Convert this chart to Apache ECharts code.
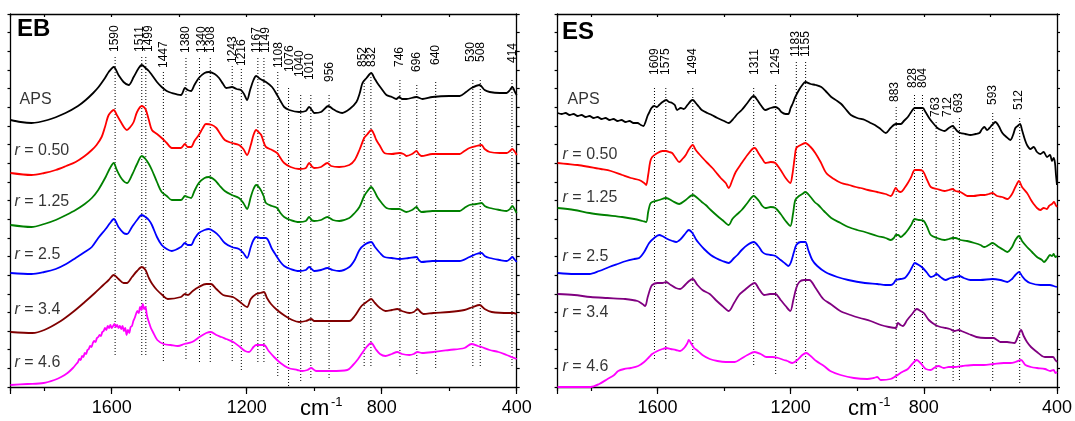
<!DOCTYPE html>
<html><head><meta charset="utf-8">
<script src="https://cdn.jsdelivr.net/npm/echarts@6/dist/echarts.min.js"></script>
<style>html,body{margin:0;padding:0;background:#fff;}#c{width:1075px;height:421px;}</style>
</head><body><div id="c"></div>
<script>
// ---------- DATA ----------
const seriesNames = ['APS', 'r = 0.50', 'r = 1.25', 'r = 2.5', 'r = 3.4', 'r = 4.6'];
const xTickLabels = [400, 800, 1200, 1600];

// EB panel spectra: [wavenumber (cm-1), stacked intensity (a.u.)]
const ebAPS = [[1900,270],[1870,268],[1838,267],[1790,270],[1737,277],[1700,284],[1677,290],[1655,297],[1639,303],[1620,312],[1609,318],[1594,323],[1580,315],[1565,308],[1550,305],[1535,313],[1520,322],[1511,325],[1500,322],[1490,319],[1481,315],[1466,308],[1452,303],[1437,299],[1422,297],[1395,295],[1383,302],[1375,300],[1365,299],[1355,305],[1342,312],[1325,317],[1312,318],[1295,316],[1282,312],[1270,306],[1261,302],[1244,303],[1230,301],[1217,300],[1208,296],[1199,290],[1190,300],[1180,310],[1172,314],[1160,311],[1143,308],[1125,303],[1110,295],[1100,289],[1089,283],[1074,280],[1045,278],[1025,279],[1015,283],[1005,279],[1000,277],[980,278],[958,284],[945,281],[935,279],[917,277],[895,281],[875,288],[865,297],[857,307],[845,312],[831,317],[822,312],[813,307],[800,301],[786,295],[770,293],[757,291],[748,293],[740,291],[727,291],[697,293],[679,291],[650,293],[600,294],[569,294],[550,298],[534,302],[510,305],[495,300],[480,298],[450,297],[430,297],[420,300],[413,303],[405,298],[400,295]];
const ebR050 = [[1900,217],[1838,215],[1800,217],[1766,220],[1735,224],[1707,228],[1680,234],[1659,240],[1645,245],[1630,253],[1620,263],[1609,275],[1594,280],[1585,275],[1573,268],[1562,262],[1555,260],[1545,263],[1535,268],[1525,278],[1511,284],[1500,281],[1490,270],[1481,260],[1466,256],[1452,252],[1437,247],[1422,242],[1395,242],[1383,246],[1375,243],[1365,243],[1355,249],[1342,255],[1330,262],[1321,266],[1303,265],[1290,262],[1282,258],[1265,250],[1244,247],[1223,245],[1210,241],[1199,235],[1188,245],[1180,255],[1172,260],[1165,258],[1157,255],[1150,248],[1143,243],[1125,240],[1110,237],[1100,232],[1089,227],[1070,223],[1045,221],[1025,222],[1015,227],[1008,224],[1000,222],[980,223],[961,227],[950,224],[926,223],[896,225],[880,230],[866,240],[852,252],[842,256],[831,260],[822,255],[816,250],[805,244],[792,237],[770,236],[748,237],[735,236],[727,234],[710,236],[697,239],[690,236],[682,234],[650,236],[600,236],[569,236],[555,239],[540,242],[520,244],[504,245],[495,241],[480,238],[450,237],[430,237],[420,239],[413,241],[405,238],[400,235]];
const ebR125 = [[1900,165],[1838,163],[1800,166],[1766,170],[1735,175],[1707,180],[1680,186],[1659,192],[1640,200],[1618,213],[1605,222],[1594,227],[1585,220],[1570,211],[1555,207],[1540,215],[1525,226],[1511,234],[1500,231],[1490,226],[1481,220],[1466,208],[1452,198],[1437,194],[1422,190],[1395,190],[1383,194],[1375,193],[1365,192],[1355,199],[1342,207],[1325,212],[1312,213],[1295,210],[1282,205],[1265,199],[1244,195],[1223,192],[1210,187],[1199,181],[1188,193],[1180,201],[1172,205],[1160,201],[1150,194],[1143,187],[1125,184],[1110,182],[1100,177],[1089,173],[1070,170],[1045,168],[1025,169],[1015,173],[1008,170],[1000,169],[980,170],[961,173],[945,170],[926,169],[896,172],[880,177],[866,183],[852,194],[842,199],[831,203],[822,199],[813,193],[800,187],[786,182],[770,181],[748,181],[727,178],[710,180],[697,183],[690,180],[682,178],[650,179],[600,179],[569,179],[555,182],[540,185],[520,186],[504,187],[495,184],[480,182],[450,180],[430,179],[420,181],[413,184],[405,180],[400,177]];
const ebR25 = [[1900,117],[1838,116],[1800,118],[1766,121],[1735,126],[1707,132],[1680,138],[1659,143],[1640,152],[1618,161],[1605,167],[1594,171],[1580,163],[1565,157],[1555,156],[1540,163],[1525,170],[1511,175],[1500,173],[1490,170],[1481,165],[1466,153],[1452,145],[1437,141],[1422,139],[1395,143],[1383,147],[1375,145],[1365,145],[1355,151],[1342,157],[1325,160],[1312,161],[1295,158],[1282,154],[1265,147],[1244,143],[1223,141],[1210,137],[1199,132],[1188,143],[1180,150],[1172,153],[1160,152],[1143,152],[1125,141],[1110,133],[1100,128],[1089,124],[1070,121],[1045,119],[1025,120],[1015,123],[1008,121],[1000,119],[980,120],[961,122],[945,120],[926,119],[896,123],[880,130],[866,140],[852,145],[831,148],[820,143],[805,137],[792,133],[770,132],[748,131],[720,132],[697,133],[690,130],[682,128],[650,129],[600,129],[569,129],[540,133],[520,136],[504,137],[495,134],[480,132],[450,130],[430,129],[420,131],[413,133],[405,130],[400,128]];
const ebR34 = [[1900,58],[1835,57],[1800,60],[1751,69],[1715,78],[1680,88],[1650,97],[1625,105],[1609,110],[1594,115],[1580,111],[1565,107],[1555,107],[1540,113],[1525,119],[1511,123],[1500,120],[1490,112],[1480,106],[1466,100],[1450,95],[1434,91],[1395,93],[1383,96],[1374,95],[1360,99],[1342,103],[1320,106],[1306,106],[1290,101],[1270,95],[1241,93],[1220,88],[1199,83],[1188,91],[1172,96],[1160,97],[1149,98],[1140,92],[1128,86],[1110,80],[1086,74],[1065,70],[1045,68],[1025,69],[1009,71],[1000,69],[994,69],[950,69],[896,69],[880,74],[860,84],[845,88],[831,91],[820,87],[805,82],[789,79],[770,80],[754,81],[740,79],[718,77],[705,78],[694,81],[685,78],[676,76],[647,77],[600,78],[555,80],[530,83],[510,85],[495,81],[474,78],[421,77],[410,77],[400,76]];
const ebR46 = [[1900,5],[1850,6],[1802,7],[1770,10],[1750,13],[1731,17],[1715,22],[1705,26],[1700,28],[1696,31],[1692,30],[1688,34],[1684,33],[1680,37],[1676,36],[1672,40],[1668,41],[1664,44],[1660,43],[1656,47],[1652,49],[1648,48],[1644,52],[1640,53],[1636,55],[1632,54],[1628,58],[1624,59],[1620,62],[1616,60],[1612,64],[1608,62],[1604,65],[1600,62],[1596,64],[1592,66],[1588,63],[1584,65],[1580,62],[1576,64],[1572,61],[1568,64],[1564,59],[1560,62],[1556,55],[1552,60],[1548,57],[1544,63],[1540,64],[1536,69],[1532,72],[1528,76],[1524,79],[1520,77],[1516,83],[1512,80],[1508,86],[1504,81],[1500,83],[1496,75],[1492,70],[1488,66],[1484,62],[1478,58],[1465,50],[1446,46],[1425,45],[1404,44],[1385,46],[1362,48],[1340,53],[1320,57],[1306,58],[1290,55],[1275,53],[1261,51],[1240,48],[1220,43],[1205,39],[1193,38],[1180,43],[1172,45],[1149,45],[1135,39],[1119,33],[1100,27],[1077,22],[1050,20],[1036,19],[1020,20],[1009,22],[1000,20],[994,19],[950,19],[902,20],[885,25],[870,31],[860,36],[845,43],[831,47],[818,41],[805,36],[789,34],[770,36],[754,38],[740,36],[718,35],[705,36],[694,38],[680,37],[647,38],[600,40],[555,42],[534,46],[515,44],[504,43],[480,40],[454,38],[430,35],[415,33],[400,31]];

// ES panel spectra
const esAPS = [[1900,277],[1888,276],[1876,277],[1864,275],[1852,276],[1840,274],[1828,275],[1816,273],[1804,274],[1792,272],[1780,273],[1768,271],[1756,272],[1744,270],[1732,271],[1720,269],[1708,270],[1696,268],[1684,269],[1672,267],[1660,267],[1650,265],[1642,264],[1636,268],[1630,274],[1624,278],[1618,282],[1610,284],[1602,283],[1595,285],[1585,288],[1574,290],[1565,288],[1556,287],[1548,285],[1541,280],[1530,282],[1521,281],[1510,285],[1500,289],[1494,290],[1485,287],[1475,283],[1467,280],[1450,277],[1437,275],[1420,272],[1400,269],[1386,267],[1370,272],[1360,276],[1347,280],[1330,287],[1311,294],[1300,290],[1290,285],[1276,280],[1260,282],[1246,283],[1235,281],[1228,278],[1215,276],[1207,276],[1200,282],[1193,287],[1186,293],[1175,300],[1165,305],[1156,308],[1140,306],[1125,305],[1108,303],[1095,299],[1078,293],[1060,289],[1048,286],[1035,281],[1019,275],[1000,272],[977,270],[960,267],[947,265],[930,261],[914,257],[900,262],[884,266],[869,266],[860,269],[848,273],[838,278],[827,282],[815,282],[803,282],[795,278],[782,271],[770,266],[759,262],[748,260],[738,259],[725,262],[714,264],[700,259],[690,257],[675,256],[660,255],[645,256],[633,257],[625,261],[618,263],[610,260],[603,262],[595,265],[585,268],[575,264],[564,257],[552,253],[540,250],[532,255],[525,262],[518,264],[511,266],[505,260],[496,250],[490,245],[480,241],[470,243],[460,238],[450,236],[440,238],[430,233],[421,235],[415,229],[410,232],[406,227],[403,215],[400,205]];
const esR050 = [[1900,227],[1870,226],[1840,225],[1804,223],[1770,221],[1740,219],[1706,215],[1680,212],[1655,210],[1640,207],[1634,205],[1628,215],[1622,228],[1616,233],[1600,237],[1585,239],[1574,239],[1565,238],[1556,237],[1545,232],[1535,228],[1525,231],[1515,235],[1505,241],[1494,245],[1485,240],[1475,236],[1467,233],[1450,227],[1435,222],[1425,218],[1410,212],[1395,207],[1386,202],[1375,210],[1365,218],[1347,227],[1330,235],[1315,241],[1308,242],[1295,236],[1285,231],[1276,227],[1260,228],[1246,227],[1230,220],[1215,212],[1201,207],[1195,215],[1188,232],[1183,242],[1170,245],[1156,247],[1140,243],[1126,237],[1110,228],[1093,217],[1070,211],[1048,207],[1025,205],[1004,203],[990,202],[968,200],[940,198],[915,196],[899,194],[884,202],[877,199],[869,198],[858,202],[848,207],[838,213],[827,220],[815,220],[803,219],[790,210],[779,203],[760,201],[738,199],[725,200],[714,201],[705,199],[690,198],[680,196],[669,194],[650,194],[630,195],[618,195],[605,196],[594,197],[580,194],[565,193],[549,191],[535,196],[525,203],[514,209],[505,203],[490,197],[478,190],[470,186],[460,182],[450,180],[440,182],[430,181],[424,184],[415,186],[409,188],[404,185],[400,183]];
const esR125 = [[1900,182],[1850,180],[1804,177],[1760,175],[1706,173],[1670,171],[1645,169],[1634,168],[1628,178],[1622,186],[1616,188],[1595,190],[1574,192],[1555,189],[1535,186],[1515,190],[1494,195],[1480,192],[1467,188],[1455,185],[1440,180],[1420,174],[1405,170],[1386,165],[1375,171],[1360,176],[1347,180],[1330,187],[1311,194],[1295,189],[1285,184],[1276,182],[1260,183],[1246,182],[1230,176],[1215,169],[1201,164],[1193,176],[1186,190],[1175,194],[1165,196],[1156,198],[1140,193],[1128,188],[1117,185],[1100,179],[1078,172],[1050,167],[1027,163],[1000,160],[977,158],[940,154],[915,152],[899,150],[890,152],[884,155],[877,155],[869,153],[858,156],[848,160],[838,165],[827,171],[815,170],[800,169],[790,163],[779,155],[760,152],[738,150],[725,151],[714,152],[705,152],[690,150],[670,149],[648,147],[630,145],[618,143],[605,145],[594,147],[575,143],[560,140],[549,138],[535,143],[525,150],[514,154],[505,149],[490,143],[475,138],[460,133],[445,130],[439,128],[430,131],[421,135],[415,134],[410,136],[405,133],[400,134]];
const esR25 = [[1900,117],[1850,116],[1804,116],[1775,119],[1745,123],[1720,126],[1694,129],[1670,131],[1655,132],[1640,138],[1625,147],[1610,152],[1595,155],[1586,154],[1570,151],[1555,149],[1544,148],[1530,151],[1515,157],[1506,160],[1495,157],[1485,151],[1476,147],[1460,141],[1440,135],[1425,132],[1405,129],[1386,127],[1370,132],[1360,135],[1347,140],[1330,145],[1311,148],[1295,143],[1285,138],[1276,136],[1260,135],[1246,134],[1230,130],[1215,126],[1207,124],[1200,127],[1190,138],[1183,145],[1170,148],[1156,148],[1147,140],[1135,130],[1120,124],[1096,118],[1060,113],[1027,110],[977,107],[940,106],[915,105],[899,105],[890,107],[884,110],[870,111],[857,112],[845,117],[835,123],[827,127],[815,125],[803,122],[790,117],[779,113],[770,114],[762,116],[750,113],[735,110],[720,112],[705,113],[693,114],[680,112],[660,110],[630,110],[594,111],[570,110],[549,108],[535,111],[525,115],[514,118],[505,114],[495,110],[481,107],[450,105],[421,105],[410,104],[400,103]];
const esR34 = [[1900,96],[1850,95],[1801,93],[1750,92],[1697,91],[1660,89],[1645,86],[1637,84],[1630,92],[1622,101],[1616,105],[1600,107],[1585,107],[1574,108],[1560,105],[1545,102],[1532,101],[1520,104],[1505,109],[1494,111],[1480,105],[1465,100],[1443,96],[1425,90],[1405,84],[1386,79],[1370,87],[1355,95],[1338,100],[1320,105],[1308,107],[1295,101],[1279,95],[1262,96],[1246,96],[1230,90],[1215,84],[1201,79],[1192,90],[1183,102],[1174,108],[1160,110],[1144,110],[1125,102],[1102,91],[1080,86],[1051,79],[1020,75],[992,72],[960,69],[929,65],[905,63],[884,62],[878,67],[870,65],[863,64],[850,70],[835,76],[821,81],[810,79],[800,77],[785,70],[765,65],[750,63],[735,62],[722,61],[708,59],[695,60],[687,59],[665,56],[642,53],[615,52],[591,52],[580,50],[570,48],[550,48],[528,47],[518,53],[508,60],[500,54],[490,48],[478,43],[460,38],[445,34],[436,33],[425,33],[412,33],[405,30],[400,28]];
const esR46 = [[1900,3],[1850,3],[1801,3],[1775,6],[1750,11],[1730,15],[1718,19],[1700,21],[1680,22],[1658,24],[1640,28],[1625,33],[1616,36],[1600,39],[1585,41],[1574,42],[1560,41],[1545,40],[1532,39],[1520,42],[1510,47],[1506,50],[1498,46],[1490,42],[1482,40],[1465,35],[1443,31],[1420,29],[1395,28],[1368,28],[1350,31],[1330,35],[1308,38],[1290,36],[1273,33],[1255,33],[1237,32],[1220,30],[1210,29],[1195,27],[1180,30],[1165,35],[1153,37],[1140,34],[1123,29],[1100,24],[1081,19],[1050,15],[1010,12],[970,11],[950,12],[940,13],[929,10],[900,11],[884,14],[865,18],[848,21],[835,26],[821,30],[810,27],[800,23],[794,21],[780,20],[765,23],[756,24],[740,22],[725,23],[708,23],[684,24],[650,25],[620,25],[591,26],[560,27],[540,27],[525,28],[508,30],[495,25],[478,23],[460,22],[436,21],[420,19],[410,20],[405,17],[400,18]];

// Peak markers: line wavenumber, label position, dotted line top/bottom (intensity units)
const ebPeaks      = [1590,1511,1499,1447,1380,1340,1308,1243,1216,1167,1149,1108,1076,1040,1010,956,852,832,746,696,640,530,508,414];
const ebLabelWn    = [1590,1516,1491,1446,1380,1333,1306,1243,1215,1171,1145,1105,1073,1042,1012,955,857,830,746,696,639,535,508,412];
const ebLabelBase  = [338,338,338,322,337,337,337,327,324,337,337,322,318,313,310,308,323,323,323,318,325,328,328,327];
const ebLineTop    = [333,333,333,318,332,332,332,324,321,332,332,318,302,295,295,295,310,313,310,305,308,310,310,310];
const ebLineBottom = [34,34,34,29,29,27,27,27,19,27,27,12,3,7,10,12,22,22,22,15,22,22,22,22];

const esPeaks      = [1609,1575,1494,1311,1245,1183,1155,883,828,804,763,712,693,593,512];
const esLabelWn    = [1609,1575,1494,1309,1244,1186,1156,886,832,803,765,728,694,592,514];
const esLabelBase  = [315,315,315,315,315,333,333,288,302,302,273,273,277,285,280];
const esLineTop    = [302,302,302,302,305,328,328,283,295,295,268,268,272,277,272];
const esLineBottom = [29,29,29,24,16,19,19,9,9,9,9,9,9,7,7];

// Curve name label anchors (wavenumber, intensity)
const ebNameX = [1873,1888,1888,1888,1888,1888];
const ebNameY = [290,239,188,135,80,27];
const esNameX = [1870,1885,1885,1885,1885,1885];
const esNameY = [290,235,192,133,77,23];

const ebColors = ['#000000','#ff0000','#008000','#0000ff','#800000','#ff00ff'];
const esColors = ['#000000','#ff0000','#008000','#0000ff','#800080','#ff00ff'];
const panelTitles = ['EB', 'ES'];

// ---------- CHART ----------
const FONT = '"Liberation Sans", Arial, sans-serif';
const chart = echarts.init(document.getElementById('c'));
const frameLine = {show:true, lineStyle:{color:'#000', width:1.3}};

function xAxesFor(gi) {
  return [
    {gridIndex:gi, type:'value', min:400, max:1900, inverse:true, interval:400, position:'bottom',
     axisLine:frameLine, axisTick:{show:true, length:7, lineStyle:{color:'#000', width:1.2}},
     splitLine:{show:false},
     axisLabel:{show:true, margin:12, color:'#000', fontSize:18, fontFamily:FONT,
       formatter:v => xTickLabels.indexOf(v) >= 0 ? String(v) : ''}},
    {gridIndex:gi, type:'value', min:400, max:1900, inverse:true, interval:200, position:'bottom',
     axisLine:{show:false}, axisTick:{show:true, length:4, lineStyle:{color:'#000', width:1.2}},
     splitLine:{show:false}, axisLabel:{show:false}},
    {gridIndex:gi, type:'value', min:400, max:1900, inverse:true, interval:200, position:'top',
     axisLine:frameLine, axisTick:{show:true, inside:true, length:3, lineStyle:{color:'#000', width:1.2}},
     splitLine:{show:false}, axisLabel:{show:false}}
  ];
}
function yAxesFor(gi) {
  return [
    {gridIndex:gi, type:'value', min:3, max:376, show:false},
    {gridIndex:gi, type:'value', min:0, max:20, interval:1, position:'left',
     axisLine:frameLine, axisTick:{show:true, length:3, lineStyle:{color:'#000', width:1.2}},
     splitLine:{show:false}, axisLabel:{show:false}},
    {gridIndex:gi, type:'value', min:0, max:20, interval:1, position:'right',
     axisLine:frameLine, axisTick:{show:true, length:3, lineStyle:{color:'#000', width:1.2}},
     splitLine:{show:false}, axisLabel:{show:false}}
  ];
}

function spectrumSeries(data, color, xi, yi) {
  return {type:'line', data:data, xAxisIndex:xi, yAxisIndex:yi, showSymbol:false, symbol:'none',
    smooth:0.3, lineStyle:{color:color, width:1.8}, silent:true, z:3};
}
function peakSeries(peaks, labWn, labBase, top, bottom, xi, yi) {
  const data = peaks.map((p, i) => [p, top[i], bottom[i], labBase[i], labWn[i]]);
  return {type:'custom', xAxisIndex:xi, yAxisIndex:yi, clip:false, silent:true, z:2,
    data:data, encode:{x:0, y:[1,2]},
    renderItem:function(params, api){
      const wn = api.value(0);
      const p1 = api.coord([wn, api.value(1)]);
      const p2 = api.coord([wn, api.value(2)]);
      const pl = api.coord([api.value(4), api.value(3)]);
      return {type:'group', children:[
        {type:'line', shape:{x1:p1[0], y1:p1[1], x2:p2[0], y2:p2[1]},
         style:{stroke:'#000', lineWidth:1, lineDash:[1,2]}},
        {type:'text', x:pl[0], y:pl[1], rotation:Math.PI/2,
         style:{text:String(wn), fill:'#000', fontSize:12, fontFamily:FONT, align:'left', verticalAlign:'middle'}}
      ]};
    }};
}
function nameSeries(xs, ys, xi, yi) {
  return {type:'scatter', xAxisIndex:xi, yAxisIndex:yi, symbolSize:0, silent:true, z:4,
    data: seriesNames.map((n, i) => ({value:[xs[i], ys[i]], name:n})),
    label:{show:true, position:'right', distance:0, color:'#000', fontSize:16, fontFamily:FONT,
      formatter: p => p.name.charAt(0) === 'r' ? '{i|r}' + p.name.slice(1) : p.name,
      rich:{i:{fontStyle:'italic', fontSize:16, fontFamily:FONT, color:'#000'}}}};
}

const ebData = [ebAPS, ebR050, ebR125, ebR25, ebR34, ebR46];
const esData = [esAPS, esR050, esR125, esR25, esR34, esR46];
const series = [];
series.push(peakSeries(ebPeaks, ebLabelWn, ebLabelBase, ebLineTop, ebLineBottom, 0, 0));
series.push(peakSeries(esPeaks, esLabelWn, esLabelBase, esLineTop, esLineBottom, 3, 3));
ebData.forEach((d, i) => series.push(spectrumSeries(d, ebColors[i], 0, 0)));
esData.forEach((d, i) => series.push(spectrumSeries(d, esColors[i], 3, 3)));
series.push(nameSeries(ebNameX, ebNameY, 0, 0));
series.push(nameSeries(esNameX, esNameY, 3, 3));

const option = {
  animation:false,
  backgroundColor:'#fff',
  grid:[
    {left:10.5, right:558.3, top:14, bottom:34},
    {left:557.6, right:14.3, top:14, bottom:34}
  ],
  title:[
    {text:panelTitles[0], left:17, top:17, textStyle:{fontSize:24, fontWeight:'bold', fontFamily:FONT, color:'#000'}, padding:0},
    {text:panelTitles[1], left:562, top:20, textStyle:{fontSize:24, fontWeight:'bold', fontFamily:FONT, color:'#000'}, padding:0},
    {text:'cm', left:300, top:398, textStyle:{fontSize:22, fontWeight:'normal', fontFamily:FONT, color:'#000'}, padding:0},
    {text:'-1', left:331, top:396, textStyle:{fontSize:13, fontWeight:'normal', fontFamily:FONT, color:'#000'}, padding:0},
    {text:'cm', left:848, top:398, textStyle:{fontSize:22, fontWeight:'normal', fontFamily:FONT, color:'#000'}, padding:0},
    {text:'-1', left:879, top:396, textStyle:{fontSize:13, fontWeight:'normal', fontFamily:FONT, color:'#000'}, padding:0}
  ],
  xAxis:[...xAxesFor(0), ...xAxesFor(1)],
  yAxis:[...yAxesFor(0), ...yAxesFor(1)],
  series:series
};
chart.setOption(option);
</script>
</body></html>
